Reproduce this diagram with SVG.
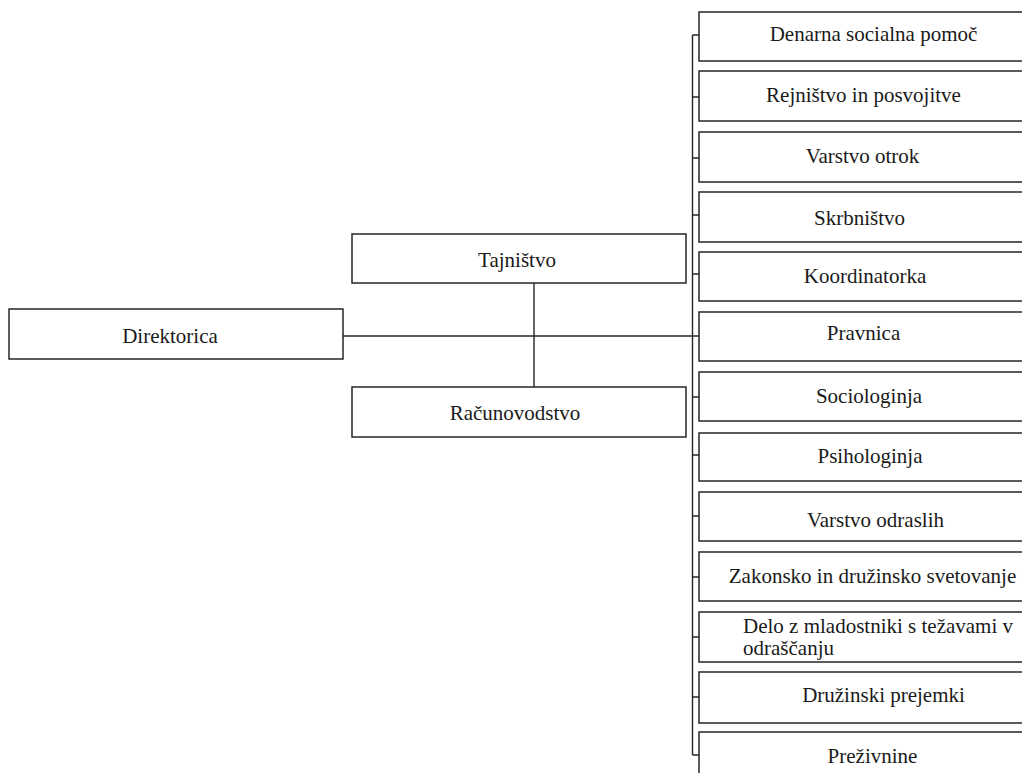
<svg xmlns="http://www.w3.org/2000/svg" width="1022" height="773" viewBox="0 0 1022 773">
<style>
.box{fill:#fff;stroke:#262626;stroke-width:1.5}
.ln{stroke:#262626;stroke-width:1.4;fill:none}
text{font-family:"Liberation Serif","Times New Roman",serif;font-size:21px;fill:#1a1a1a}
.c{text-anchor:middle}
</style>
<rect width="1022" height="773" fill="#fff"/>
<g id="connectors">
<line class="ln" x1="343" y1="336" x2="699" y2="336"/>
<line class="ln" x1="534" y1="283" x2="534" y2="387"/>
<line class="ln" x1="692.5" y1="35" x2="692.5" y2="755"/>
<path class="ln" d="M692.5 35H699M692.5 97H699M692.5 158H699M692.5 215H699M692.5 274H699M692.5 397H699M692.5 455H699M692.5 516H699M692.5 577H699M692.5 637H699M692.5 697H699M692.5 755H699"/>
</g>
<g id="n-direktorica"><rect class="box" x="9" y="309" width="334" height="50"/><text class="c" x="170" y="343">Direktorica</text></g>
<g id="n-tajnistvo"><rect class="box" x="352" y="234" width="334" height="49"/><text class="c" x="517" y="267">Tajništvo</text></g>
<g id="n-racunovodstvo"><rect class="box" x="352" y="387" width="334" height="50"/><text class="c" x="515" y="420">Računovodstvo</text></g>
<g id="n1"><rect class="box" x="699" y="12" width="360" height="49"/><text class="c" x="873.5" y="41">Denarna socialna pomoč</text></g>
<g id="n2"><rect class="box" x="699" y="71" width="360" height="50"/><text class="c" x="863.5" y="102">Rejništvo in posvojitve</text></g>
<g id="n3"><rect class="box" x="699" y="132" width="360" height="50"/><text class="c" x="862.5" y="163">Varstvo otrok</text></g>
<g id="n4"><rect class="box" x="699" y="192" width="360" height="50"/><text class="c" x="859.5" y="225">Skrbništvo</text></g>
<g id="n5"><rect class="box" x="699" y="252" width="360" height="49"/><text class="c" x="865" y="283">Koordinatorka</text></g>
<g id="n6"><rect class="box" x="699" y="312" width="360" height="49"/><text class="c" x="863.5" y="340">Pravnica</text></g>
<g id="n7"><rect class="box" x="699" y="372" width="360" height="49"/><text class="c" x="869" y="403">Sociologinja</text></g>
<g id="n8"><rect class="box" x="699" y="433" width="360" height="48"/><text class="c" x="870" y="463">Psihologinja</text></g>
<g id="n9"><rect class="box" x="699" y="492" width="360" height="49"/><text class="c" x="875.5" y="527">Varstvo odraslih</text></g>
<g id="n10"><rect class="box" x="699" y="552" width="360" height="49"/><text class="c" x="872.5" y="583">Zakonsko in družinsko svetovanje</text></g>
<g id="n11"><rect class="box" x="699" y="612" width="360" height="50"/><text x="743" y="633">Delo z mladostniki s težavami v</text><text x="743" y="655">odraščanju</text></g>
<g id="n12"><rect class="box" x="699" y="672" width="360" height="51"/><text class="c" x="883.5" y="702">Družinski prejemki</text></g>
<g id="n13"><rect class="box" x="699" y="732" width="360" height="60"/><text class="c" x="872.5" y="763">Preživnine</text></g>
</svg>
